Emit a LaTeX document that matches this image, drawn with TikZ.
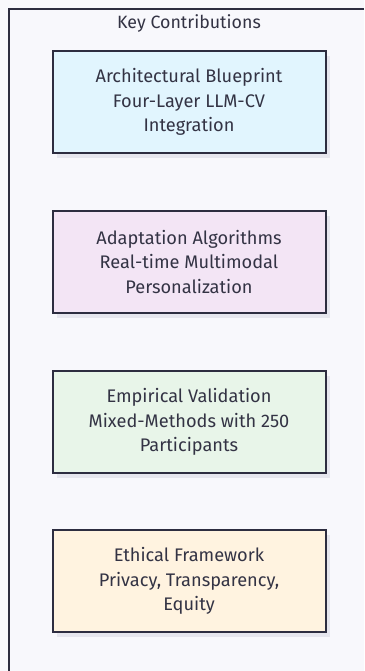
\documentclass[tikz,border=0pt]{standalone}
\usepackage{fontspec}
\setmainfont{Fira Sans}
\definecolor{bgc}{HTML}{F8F8FC}
\definecolor{linec}{HTML}{2D2D40}
\definecolor{txtc}{HTML}{333344}
\definecolor{shadc}{HTML}{E6E6EE}
\definecolor{fblue}{HTML}{E1F5FE}
\definecolor{fpurple}{HTML}{F3E5F5}
\definecolor{fgreen}{HTML}{E8F5E9}
\definecolor{forange}{HTML}{FFF3E0}
\begin{document}
\begin{tikzpicture}[x=1pt,y=-1pt,
  card/.style={draw=linec, line width=2pt, minimum width=273pt, minimum height=102pt,
    inner sep=0pt, align=center, text=txtc, font=\fontsize{18.2}{24.5}\selectfont},
  shadowbox/.style={fill=shadc, draw=none}]
\useasboundingbox (0,0) rectangle (364,671);
\fill[bgc] (0,0) rectangle (364,671);
\draw[linec, line width=1.5pt] (364,9) -- (9,9) -- (9,672);
\node[text=txtc, font=\fontsize{17.8}{20}\selectfont] (title) at (189,23) {Key Contributions};
\foreach \yy in {102,262,422,581}{
  \fill[shadc] (57,\yy-46) rectangle (330,\yy+56);
}
\node[card, fill=fblue] (a) at (189,102) {Architectural Blueprint\\Four-Layer LLM-CV\\Integration};
\node[card, fill=fpurple] (b) at (189,262) {Adaptation Algorithms\\Real-time Multimodal\\Personalization};
\node[card, fill=fgreen] (c) at (189,422) {Empirical Validation\\Mixed-Methods with 250\\Participants};
\node[card, fill=forange] (d) at (189,581) {Ethical Framework\\Privacy, Transparency,\\Equity};
\end{tikzpicture}
\end{document}
